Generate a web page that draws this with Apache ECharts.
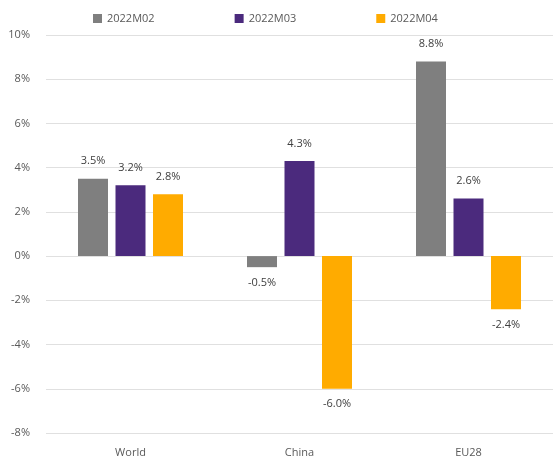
<!DOCTYPE html>
<html>
<head>
<meta charset="utf-8">
<script src="https://cdn.jsdelivr.net/npm/echarts@6/dist/echarts.min.js"></script>
<style>html,body{margin:0;padding:0;background:#fff;}#c{width:553px;height:461px;}</style>
</head>
<body>
<div id="c"></div>
<script>
const categories = ['World', 'China', 'EU28'];
const seriesNames = ['2022M02', '2022M03', '2022M04'];
const m02 = [3.5, -0.5, 8.8];
const m03 = [3.2, 4.3, 2.6];
const m04 = [2.8, -6.0, -2.4];
const colors = ['#7f7f7f', '#4b2a7d', '#ffab00'];

const chart = echarts.init(document.getElementById('c'));
const font = '"Open Sans", "Noto Sans", sans-serif';
function mk(name, vals, color) {
  return {
    name: name,
    type: 'bar',
    barWidth: 30,
    barGap: '25%',
    itemStyle: { color: color },
    data: vals.map(v => ({
      value: v,
      label: { position: v >= 0 ? 'top' : 'bottom', distance: v >= 0 ? 12 : 10 }
    })),
    label: {
      show: true,
      fontFamily: font,
      fontSize: 11,
      color: '#404040',
      formatter: p => p.value.toFixed(1) + '%'
    }
  };
}
chart.setOption({
  animation: false,
  legend: {
    top: 8,
    left: 88,
    itemWidth: 9,
    itemHeight: 9,
    itemGap: 80,
    icon: 'rect',
    textStyle: { fontFamily: font, fontSize: 11, color: '#595959' },
    data: seriesNames
  },
  grid: { left: 46, right: 0, top: 35, bottom: 28 },
  xAxis: {
    type: 'category',
    data: categories,
    axisLine: { show: false },
    axisTick: { show: false },
    axisLabel: { margin: 14, fontFamily: font, fontSize: 11, color: '#595959' }
  },
  yAxis: {
    type: 'value',
    min: -8, max: 10, interval: 2,
    axisLabel: { margin: 16, fontFamily: font, fontSize: 11, color: '#595959', formatter: v => v + '%' },
    splitLine: { lineStyle: { color: '#e0e0e0', width: 1 } },
    axisLine: { show: false },
    axisTick: { show: false }
  },
  series: [mk(seriesNames[0], m02, colors[0]), mk(seriesNames[1], m03, colors[1]), mk(seriesNames[2], m04, colors[2])]
});
</script>
</body>
</html>
